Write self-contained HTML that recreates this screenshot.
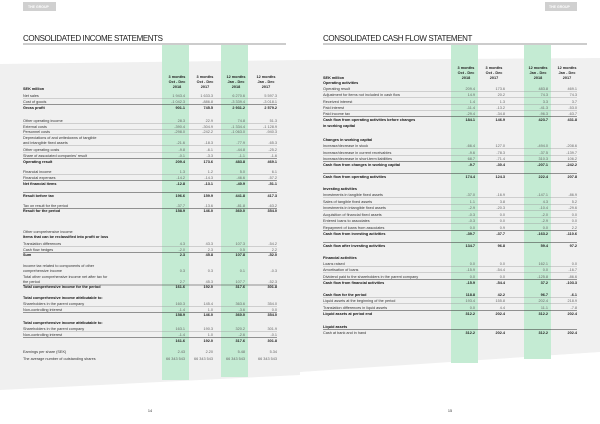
<!DOCTYPE html>
<html><head><meta charset="utf-8"><style>
html,body{margin:0;padding:0;background:#fff}
svg{display:block}
text{font-family:"Liberation Sans",sans-serif;font-size:3.8px;fill:#333}
.b{font-weight:bold;fill:#111}
.v{text-anchor:end;fill:#666}
.vb{text-anchor:end;font-weight:bold;fill:#222}
.h{text-anchor:middle;font-weight:bold;fill:#222;font-size:3.8px}
.t{font-size:8px;fill:#222;letter-spacing:-0.4px}
line{stroke:#999;stroke-width:0.4}
.d{stroke:#333;stroke-width:0.6}
</style></head><body>
<svg width="600" height="424" viewBox="0 0 600 424">
<polygon points="0,64 300,60 300,375 0,390" fill="#f0f0f0"/>
<polygon points="300,60 600,58 600,352 300,372" fill="#f0f0f0"/>
<rect x="162" y="45" width="27" height="335" fill="#c4ebd3"/>
<rect x="221" y="45" width="27" height="332" fill="#c4ebd3"/>
<rect x="451" y="45" width="27" height="318" fill="#c4ebd3"/>
<rect x="524" y="45" width="27" height="314" fill="#c4ebd3"/>
<rect x="23" y="2" width="33" height="9" fill="#d0d0d0"/>
<text x="28" y="8" style="font-size:3.5px;fill:#fff;font-weight:bold">THE GROUP</text>
<rect x="545" y="2" width="32" height="9" fill="#d0d0d0"/>
<text x="549" y="8" style="font-size:3.5px;fill:#fff;font-weight:bold">THE GROUP</text>
<text class="t" x="23" y="41">CONSOLIDATED INCOME STATEMENTS</text>
<line class="d" x1="23" y1="44" x2="286" y2="44"/>
<text class="t" x="323" y="41">CONSOLIDATED CASH FLOW STATEMENT</text>
<line class="d" x1="323" y1="44" x2="587" y2="44"/>
<g>
<text class="h" x="177" y="78">3 months</text><text class="h" x="177" y="83">Oct - Dec</text><text class="h" x="177" y="88">2018</text>
<text class="h" x="205" y="78">3 months</text><text class="h" x="205" y="83">Oct - Dec</text><text class="h" x="205" y="88">2017</text>
<text class="h" x="236" y="78">12 months</text><text class="h" x="236" y="83">Jan - Dec</text><text class="h" x="236" y="88">2018</text>
<text class="h" x="266" y="78">12 months</text><text class="h" x="266" y="83">Jan - Dec</text><text class="h" x="266" y="88">2017</text>
<text class="b" x="23" y="90">SEK million</text>
</g>
<g id="L">
<text x="23" y="97">Net sales</text><text class="v" x="185" y="97">1 943.4</text><text class="v" x="213" y="97">1 633.3</text><text class="v" x="245" y="97">6 270.6</text><text class="v" x="277" y="97">5 597.3</text><line x1="23" y1="98.5" x2="277" y2="98.5"/>
<text x="23" y="103">Cost of goods</text><text class="v" x="185" y="103">-1 042.3</text><text class="v" x="213" y="103">-886.8</text><text class="v" x="245" y="103">-3 339.4</text><text class="v" x="277" y="103">-3 018.1</text><line class="d" x1="23" y1="104.5" x2="277" y2="104.5"/>
<text class="b" x="23" y="109">Gross profit</text><text class="vb" x="185" y="109">901.1</text><text class="vb" x="213" y="109">745.5</text><text class="vb" x="245" y="109">2 931.2</text><text class="vb" x="277" y="109">2 579.2</text>
<text x="23" y="122">Other operating income</text><text class="v" x="185" y="122">28.3</text><text class="v" x="213" y="122">22.9</text><text class="v" x="245" y="122">74.8</text><text class="v" x="277" y="122">51.3</text><line x1="23" y1="123.5" x2="277" y2="123.5"/>
<text x="23" y="128">External costs</text><text class="v" x="185" y="128">-390.4</text><text class="v" x="213" y="128">-304.9</text><text class="v" x="245" y="128">-1 334.4</text><text class="v" x="277" y="128">-1 128.9</text><line x1="23" y1="129.5" x2="277" y2="129.5"/>
<text x="23" y="133">Personnel costs</text><text class="v" x="185" y="133">-298.0</text><text class="v" x="213" y="133">-242.2</text><text class="v" x="245" y="133">-1 063.0</text><text class="v" x="277" y="133">-940.3</text><line x1="23" y1="134.5" x2="277" y2="134.5"/>
<text x="23" y="139">Depreciations of and writedowns of tangible</text><text x="23" y="144">and intangible fixed assets</text><text class="v" x="185" y="144">-21.6</text><text class="v" x="213" y="144">-18.3</text><text class="v" x="245" y="144">-77.9</text><text class="v" x="277" y="144">-65.3</text><line x1="23" y1="145.5" x2="277" y2="145.5"/>
<text x="23" y="151">Other operating costs</text><text class="v" x="185" y="151">-9.8</text><text class="v" x="213" y="151">-6.1</text><text class="v" x="245" y="151">-44.8</text><text class="v" x="277" y="151">-25.2</text><line x1="23" y1="152.5" x2="277" y2="152.5"/>
<text x="23" y="157">Share of associated companies' result</text><text class="v" x="185" y="157">-0.1</text><text class="v" x="213" y="157">-3.3</text><text class="v" x="245" y="157">-1.1</text><text class="v" x="277" y="157">-1.6</text><line class="d" x1="23" y1="158.5" x2="277" y2="158.5"/>
<text class="b" x="23" y="163">Operating result</text><text class="vb" x="185" y="163">209.4</text><text class="vb" x="213" y="163">173.6</text><text class="vb" x="245" y="163">483.8</text><text class="vb" x="277" y="163">469.1</text>
<text x="23" y="173">Financial income</text><text class="v" x="185" y="173">1.3</text><text class="v" x="213" y="173">1.2</text><text class="v" x="245" y="173">5.0</text><text class="v" x="277" y="173">6.1</text><line x1="23" y1="174.5" x2="277" y2="174.5"/>
<text x="23" y="179">Financial expenses</text><text class="v" x="185" y="179">-14.2</text><text class="v" x="213" y="179">-14.3</text><text class="v" x="245" y="179">-46.6</text><text class="v" x="277" y="179">-57.2</text><line class="d" x1="23" y1="180.5" x2="277" y2="180.5"/>
<text class="b" x="23" y="185">Net financial items</text><text class="vb" x="185" y="185">-12.8</text><text class="vb" x="213" y="185">-13.1</text><text class="vb" x="245" y="185">-40.9</text><text class="vb" x="277" y="185">-51.1</text>
<line class="d" x1="23" y1="192.5" x2="277" y2="192.5"/>
<text class="b" x="23" y="197">Result before tax</text><text class="vb" x="185" y="197">196.6</text><text class="vb" x="213" y="197">159.9</text><text class="vb" x="245" y="197">441.8</text><text class="vb" x="277" y="197">417.3</text>
<text x="23" y="207">Tax on result for the period</text><text class="v" x="185" y="207">-37.7</text><text class="v" x="213" y="207">-13.6</text><text class="v" x="245" y="207">-81.8</text><text class="v" x="277" y="207">-63.2</text><line class="d" x1="23" y1="208.5" x2="277" y2="208.5"/>
<text class="b" x="23" y="212">Result for the period</text><text class="vb" x="185" y="212">158.9</text><text class="vb" x="213" y="212">146.0</text><text class="vb" x="245" y="212">360.0</text><text class="vb" x="277" y="212">354.0</text>
<text x="23" y="233">Other comprehensive income</text>
<text class="b" x="23" y="238">Items that can be reclassified into profit or loss</text>
<text x="23" y="245">Translation differences</text><text class="v" x="185" y="245">4.3</text><text class="v" x="213" y="245">43.3</text><text class="v" x="245" y="245">107.3</text><text class="v" x="277" y="245">-54.2</text><line x1="23" y1="246.5" x2="277" y2="246.5"/>
<text x="23" y="251">Cash flow hedges</text><text class="v" x="185" y="251">-2.0</text><text class="v" x="213" y="251">2.3</text><text class="v" x="245" y="251">0.5</text><text class="v" x="277" y="251">2.2</text><line class="d" x1="23" y1="252.5" x2="277" y2="252.5"/>
<text class="b" x="23" y="256">Sum</text><text class="vb" x="185" y="256">2.3</text><text class="vb" x="213" y="256">45.8</text><text class="vb" x="245" y="256">107.8</text><text class="vb" x="277" y="256">-52.0</text>
<text x="23" y="267">Income tax related to components of other</text><text x="23" y="272">comprehensive income</text><text class="v" x="185" y="272">0.3</text><text class="v" x="213" y="272">0.3</text><text class="v" x="245" y="272">0.1</text><text class="v" x="277" y="272">-0.3</text>
<text x="23" y="278">Total other comprehensive income net after tax for</text><text x="23" y="283">the period</text><text class="v" x="185" y="283">2.7</text><text class="v" x="213" y="283">45.3</text><text class="v" x="245" y="283">107.7</text><text class="v" x="277" y="283">-52.3</text><line class="d" x1="23" y1="285" x2="277" y2="285"/>
<text class="b" x="23" y="288">Total comprehensive income for the period</text><text class="vb" x="185" y="288">161.6</text><text class="vb" x="213" y="288">192.0</text><text class="vb" x="245" y="288">317.6</text><text class="vb" x="277" y="288">301.8</text>
<text class="b" x="23" y="299">Total comprehensive income attributable to:</text>
<text x="23" y="305">Shareholders in the parent company</text><text class="v" x="185" y="305">160.3</text><text class="v" x="213" y="305">145.4</text><text class="v" x="245" y="305">363.6</text><text class="v" x="277" y="305">354.0</text><line x1="23" y1="306.5" x2="277" y2="306.5"/>
<text x="23" y="311">Non-controlling interest</text><text class="v" x="185" y="311">-1.4</text><text class="v" x="213" y="311">1.0</text><text class="v" x="245" y="311">-3.6</text><text class="v" x="277" y="311">0.0</text><line class="d" x1="23" y1="312.5" x2="277" y2="312.5"/>
<text class="vb" x="185" y="316">158.9</text><text class="vb" x="213" y="316">146.0</text><text class="vb" x="245" y="316">360.0</text><text class="vb" x="277" y="316">354.0</text>
<text class="b" x="23" y="324">Total comprehensive income attributable to:</text>
<text x="23" y="330">Shareholders in the parent company</text><text class="v" x="185" y="330">163.1</text><text class="v" x="213" y="330">190.3</text><text class="v" x="245" y="330">320.2</text><text class="v" x="277" y="330">301.9</text><line x1="23" y1="331.5" x2="277" y2="331.5"/>
<text x="23" y="336">Non-controlling interest</text><text class="v" x="185" y="336">-1.4</text><text class="v" x="213" y="336">1.0</text><text class="v" x="245" y="336">-2.6</text><text class="v" x="277" y="336">-0.1</text><line class="d" x1="23" y1="337.5" x2="277" y2="337.5"/>
<text class="vb" x="185" y="342">161.6</text><text class="vb" x="213" y="342">192.0</text><text class="vb" x="245" y="342">317.6</text><text class="vb" x="277" y="342">301.8</text>
<text x="23" y="353">Earnings per share (SEK)</text><text class="v" x="185" y="353">2.43</text><text class="v" x="213" y="353">2.20</text><text class="v" x="245" y="353">5.48</text><text class="v" x="277" y="353">5.34</text>
<text x="23" y="360">The average number of outstanding shares</text><text class="v" x="185" y="360">66 343 543</text><text class="v" x="213" y="360">66 343 543</text><text class="v" x="245" y="360">66 343 543</text><text class="v" x="277" y="360">66 343 543</text>
<text x="150" y="412" style="text-anchor:middle">14</text>
</g>
<g>
<text class="h" x="466" y="69">3 months</text><text class="h" x="466" y="74">Oct - Dec</text><text class="h" x="466" y="79">2018</text>
<text class="h" x="494" y="69">3 months</text><text class="h" x="494" y="74">Oct - Dec</text><text class="h" x="494" y="79">2017</text>
<text class="h" x="538" y="69">12 months</text><text class="h" x="538" y="74">Jan - Dec</text><text class="h" x="538" y="79">2018</text>
<text class="h" x="567" y="69">12 months</text><text class="h" x="567" y="74">Jan - Dec</text><text class="h" x="567" y="79">2017</text>
<text class="b" x="323" y="79">SEK million</text>
<text class="b" x="323" y="84">Operating activities</text>
<text x="323" y="90">Operating result</text><text class="v" x="475" y="90">209.4</text><text class="v" x="505" y="90">173.6</text><text class="v" x="548" y="90">483.8</text><text class="v" x="577" y="90">469.1</text><line x1="323" y1="91.5" x2="577" y2="91.5"/>
<text x="323" y="96">Adjustment for items not included in cash flow</text><text class="v" x="475" y="96">14.9</text><text class="v" x="505" y="96">20.2</text><text class="v" x="548" y="96">74.3</text><text class="v" x="577" y="96">74.3</text><line x1="323" y1="97.5" x2="577" y2="97.5"/>
<text x="323" y="103">Received interest</text><text class="v" x="475" y="103">1.4</text><text class="v" x="505" y="103">1.3</text><text class="v" x="548" y="103">3.3</text><text class="v" x="577" y="103">3.7</text><line x1="323" y1="104.5" x2="577" y2="104.5"/>
<text x="323" y="109">Paid interest</text><text class="v" x="475" y="109">-11.4</text><text class="v" x="505" y="109">-13.2</text><text class="v" x="548" y="109">-41.3</text><text class="v" x="577" y="109">-53.0</text><line x1="323" y1="110.5" x2="577" y2="110.5"/>
<text x="323" y="115">Paid income tax</text><text class="v" x="475" y="115">-29.4</text><text class="v" x="505" y="115">-34.8</text><text class="v" x="548" y="115">-96.3</text><text class="v" x="577" y="115">-63.7</text><line class="d" x1="323" y1="116.5" x2="577" y2="116.5"/>
<text class="b" x="323" y="121">Cash flow from operating activities before changes</text><text class="b" x="323" y="127">in working capital</text><text class="vb" x="475" y="121">184.1</text><text class="vb" x="505" y="121">146.9</text><text class="vb" x="548" y="121">423.7</text><text class="vb" x="577" y="121">431.8</text>
<text class="b" x="323" y="141">Changes in working capital</text>
<text x="323" y="147">Increase/decrease in stock</text><text class="v" x="475" y="147">-66.4</text><text class="v" x="505" y="147">127.0</text><text class="v" x="548" y="147">-494.0</text><text class="v" x="577" y="147">-208.6</text><line x1="323" y1="148.5" x2="577" y2="148.5"/>
<text x="323" y="154">Increase/decrease in current receivables</text><text class="v" x="475" y="154">-9.6</text><text class="v" x="505" y="154">-78.3</text><text class="v" x="548" y="154">-37.5</text><text class="v" x="577" y="154">-139.7</text><line x1="323" y1="155.5" x2="577" y2="155.5"/>
<text x="323" y="160">Increase/decrease in short-term liabilities</text><text class="v" x="475" y="160">68.7</text><text class="v" x="505" y="160">-71.4</text><text class="v" x="548" y="160">310.3</text><text class="v" x="577" y="160">106.2</text><line class="d" x1="323" y1="161.5" x2="577" y2="161.5"/>
<text class="b" x="323" y="166">Cash flow from changes in working capital</text><text class="vb" x="475" y="166">-9.7</text><text class="vb" x="505" y="166">-30.4</text><text class="vb" x="548" y="166">-207.1</text><text class="vb" x="577" y="166">-242.2</text>
<line class="d" x1="323" y1="173.5" x2="577" y2="173.5"/>
<text class="b" x="323" y="178">Cash flow from operating activities</text><text class="vb" x="475" y="178">174.4</text><text class="vb" x="505" y="178">124.3</text><text class="vb" x="548" y="178">222.4</text><text class="vb" x="577" y="178">207.8</text>
<text class="b" x="323" y="190">Investing activities</text>
<text x="323" y="196">Investments in tangible fixed assets</text><text class="v" x="475" y="196">-37.0</text><text class="v" x="505" y="196">-16.9</text><text class="v" x="548" y="196">-147.1</text><text class="v" x="577" y="196">-86.9</text><line x1="323" y1="197.5" x2="577" y2="197.5"/>
<text x="323" y="203">Sales of tangible fixed assets</text><text class="v" x="475" y="203">1.1</text><text class="v" x="505" y="203">3.8</text><text class="v" x="548" y="203">4.3</text><text class="v" x="577" y="203">5.2</text><line x1="323" y1="204.5" x2="577" y2="204.5"/>
<text x="323" y="209">Investments in intangible fixed assets</text><text class="v" x="475" y="209">-2.9</text><text class="v" x="505" y="209">-20.3</text><text class="v" x="548" y="209">-10.4</text><text class="v" x="577" y="209">-29.6</text><line x1="323" y1="210.5" x2="577" y2="210.5"/>
<text x="323" y="216">Acquisition of financial fixed assets</text><text class="v" x="475" y="216">-0.3</text><text class="v" x="505" y="216">0.0</text><text class="v" x="548" y="216">-2.0</text><text class="v" x="577" y="216">0.0</text><line x1="323" y1="217.5" x2="577" y2="217.5"/>
<text x="323" y="222">Entered loans to associates</text><text class="v" x="475" y="222">-0.3</text><text class="v" x="505" y="222">0.0</text><text class="v" x="548" y="222">-2.9</text><text class="v" x="577" y="222">0.0</text><line x1="323" y1="223.5" x2="577" y2="223.5"/>
<text x="323" y="229">Repayment of loans from associates</text><text class="v" x="475" y="229">0.0</text><text class="v" x="505" y="229">0.9</text><text class="v" x="548" y="229">0.0</text><text class="v" x="577" y="229">2.2</text><line class="d" x1="323" y1="230.5" x2="577" y2="230.5"/>
<text class="b" x="323" y="235">Cash flow from investing activities</text><text class="vb" x="475" y="235">-39.7</text><text class="vb" x="505" y="235">-37.7</text><text class="vb" x="548" y="235">-163.2</text><text class="vb" x="577" y="235">-110.6</text>
<line class="d" x1="323" y1="242.5" x2="577" y2="242.5"/>
<text class="b" x="323" y="247">Cash flow after investing activities</text><text class="vb" x="475" y="247">134.7</text><text class="vb" x="505" y="247">96.8</text><text class="vb" x="548" y="247">59.4</text><text class="vb" x="577" y="247">97.2</text>
<text class="b" x="323" y="259">Financial activities</text>
<text x="323" y="265">Loans raised</text><text class="v" x="475" y="265">0.0</text><text class="v" x="505" y="265">0.0</text><text class="v" x="548" y="265">162.1</text><text class="v" x="577" y="265">0.0</text><line x1="323" y1="266.5" x2="577" y2="266.5"/>
<text x="323" y="271">Amortisation of loans</text><text class="v" x="475" y="271">-15.9</text><text class="v" x="505" y="271">-54.4</text><text class="v" x="548" y="271">0.0</text><text class="v" x="577" y="271">-16.7</text><line x1="323" y1="272.5" x2="577" y2="272.5"/>
<text x="323" y="278">Dividend paid to the shareholders in the parent company</text><text class="v" x="475" y="278">0.0</text><text class="v" x="505" y="278">0.0</text><text class="v" x="548" y="278">-125.8</text><text class="v" x="577" y="278">-86.6</text><line class="d" x1="323" y1="279.5" x2="577" y2="279.5"/>
<text class="b" x="323" y="284">Cash flow from financial activities</text><text class="vb" x="475" y="284">-15.9</text><text class="vb" x="505" y="284">-54.4</text><text class="vb" x="548" y="284">37.2</text><text class="vb" x="577" y="284">-103.3</text>
<text class="b" x="323" y="296">Cash flow for the period</text><text class="vb" x="475" y="296">118.8</text><text class="vb" x="505" y="296">42.2</text><text class="vb" x="548" y="296">96.7</text><text class="vb" x="577" y="296">-6.1</text><line x1="323" y1="297.5" x2="577" y2="297.5"/>
<text x="323" y="302">Liquid assets at the beginning of the period</text><text class="v" x="475" y="302">193.4</text><text class="v" x="505" y="302">155.8</text><text class="v" x="548" y="302">202.4</text><text class="v" x="577" y="302">218.9</text><line x1="323" y1="303.5" x2="577" y2="303.5"/>
<text x="323" y="309">Translation differences in liquid assets</text><text class="v" x="475" y="309">0.0</text><text class="v" x="505" y="309">4.4</text><text class="v" x="548" y="309">11.1</text><text class="v" x="577" y="309">-7.8</text><line class="d" x1="323" y1="310.5" x2="577" y2="310.5"/>
<text class="b" x="323" y="315">Liquid assets at period end</text><text class="vb" x="475" y="315">312.2</text><text class="vb" x="505" y="315">202.4</text><text class="vb" x="548" y="315">312.2</text><text class="vb" x="577" y="315">202.4</text>
<text class="b" x="323" y="328">Liquid assets</text><line class="d" x1="323" y1="329.5" x2="577" y2="329.5"/>
<text x="323" y="334">Cash at bank and in hand</text><text class="vb" x="475" y="334">312.2</text><text class="vb" x="505" y="334">202.4</text><text class="vb" x="548" y="334">312.2</text><text class="vb" x="577" y="334">202.4</text>
<text x="450" y="412" style="text-anchor:middle">15</text>
</g>
</svg>
</body></html>
